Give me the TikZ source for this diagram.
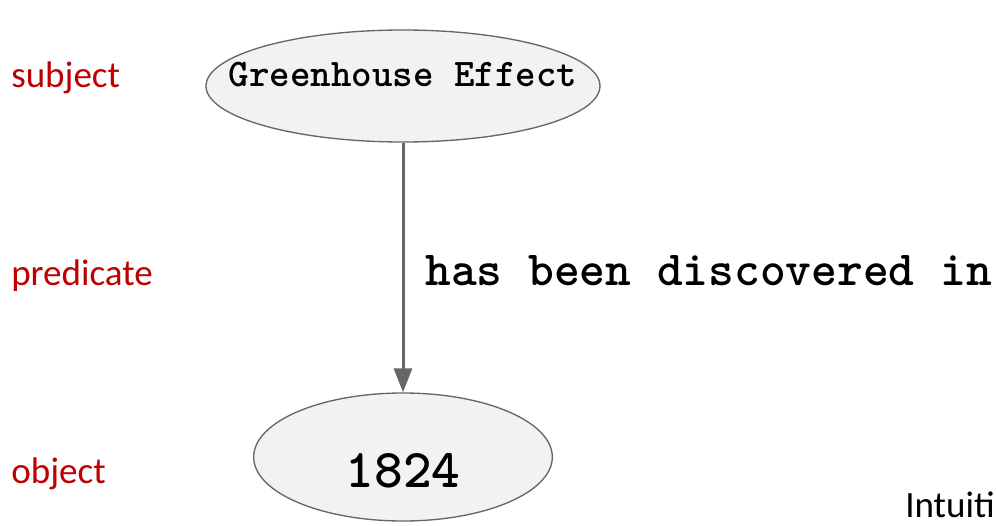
\documentclass[tikz,border=0pt]{standalone}
\usepackage{fontspec}
\usepackage{tikz}
\usetikzlibrary{arrows.meta,shapes.geometric,positioning}
\setmainfont{Carlito}
\definecolor{Tag}{HTML}{C00000}
\definecolor{Edge}{HTML}{666666}
\definecolor{Bubble}{HTML}{F2F2F2}
\tikzset{
bubble/.style= {ellipse, draw=Edge, line width=1pt, fill=Bubble, inner sep=0pt},
tag/.style= {anchor=base west, text=Tag, inner sep=0pt, font=\fontsize{27.8}{33}\selectfont},
typed/.style= {anchor=base, inner sep=0pt},
link/.style= {draw=Edge, line width=2.25pt, -{Triangle[length=18pt,width=13.5pt]}}
}

\begin{document}
\begin{tikzpicture}[x=0.75pt, y=-0.75pt]
    \useasboundingbox (0,0) rectangle (996,525);

    % roles on the left
    \node[tag] (subj) at (11,87) {subject};
    \node[tag] (pred) at (11,285) {predicate};
    \node[tag] (obj) at (11,483) {object};

    % the triple
    \node[bubble, minimum width=295.5pt, minimum height=84pt] (effect) at (403,86) {};
    \node[typed, font=\ttfamily\bfseries\fontsize{29.3}{34}\selectfont] (effecttext) at (effect.center) {Greenhouse Effect};
    \node[bubble, minimum width=224pt, minimum height=96pt] (year) at (403,457) {};
    \node[typed, font=\ttfamily\bfseries\fontsize{41}{46}\selectfont] (yeartext) at ([yshift=-22.5pt]year.center) {1824};

    \draw[link] (effect.south) -- (year.north);
    \node[typed, anchor=base west, font=\ttfamily\bfseries\fontsize{36.8}{42}\selectfont] (verb) at (425,285) {has been discovered in};

    \node[anchor=base west, inner sep=0pt, font=\fontsize{27.8}{33}\selectfont] (cut) at (905,517) {Intuiti};
\end{tikzpicture}
\end{document}
